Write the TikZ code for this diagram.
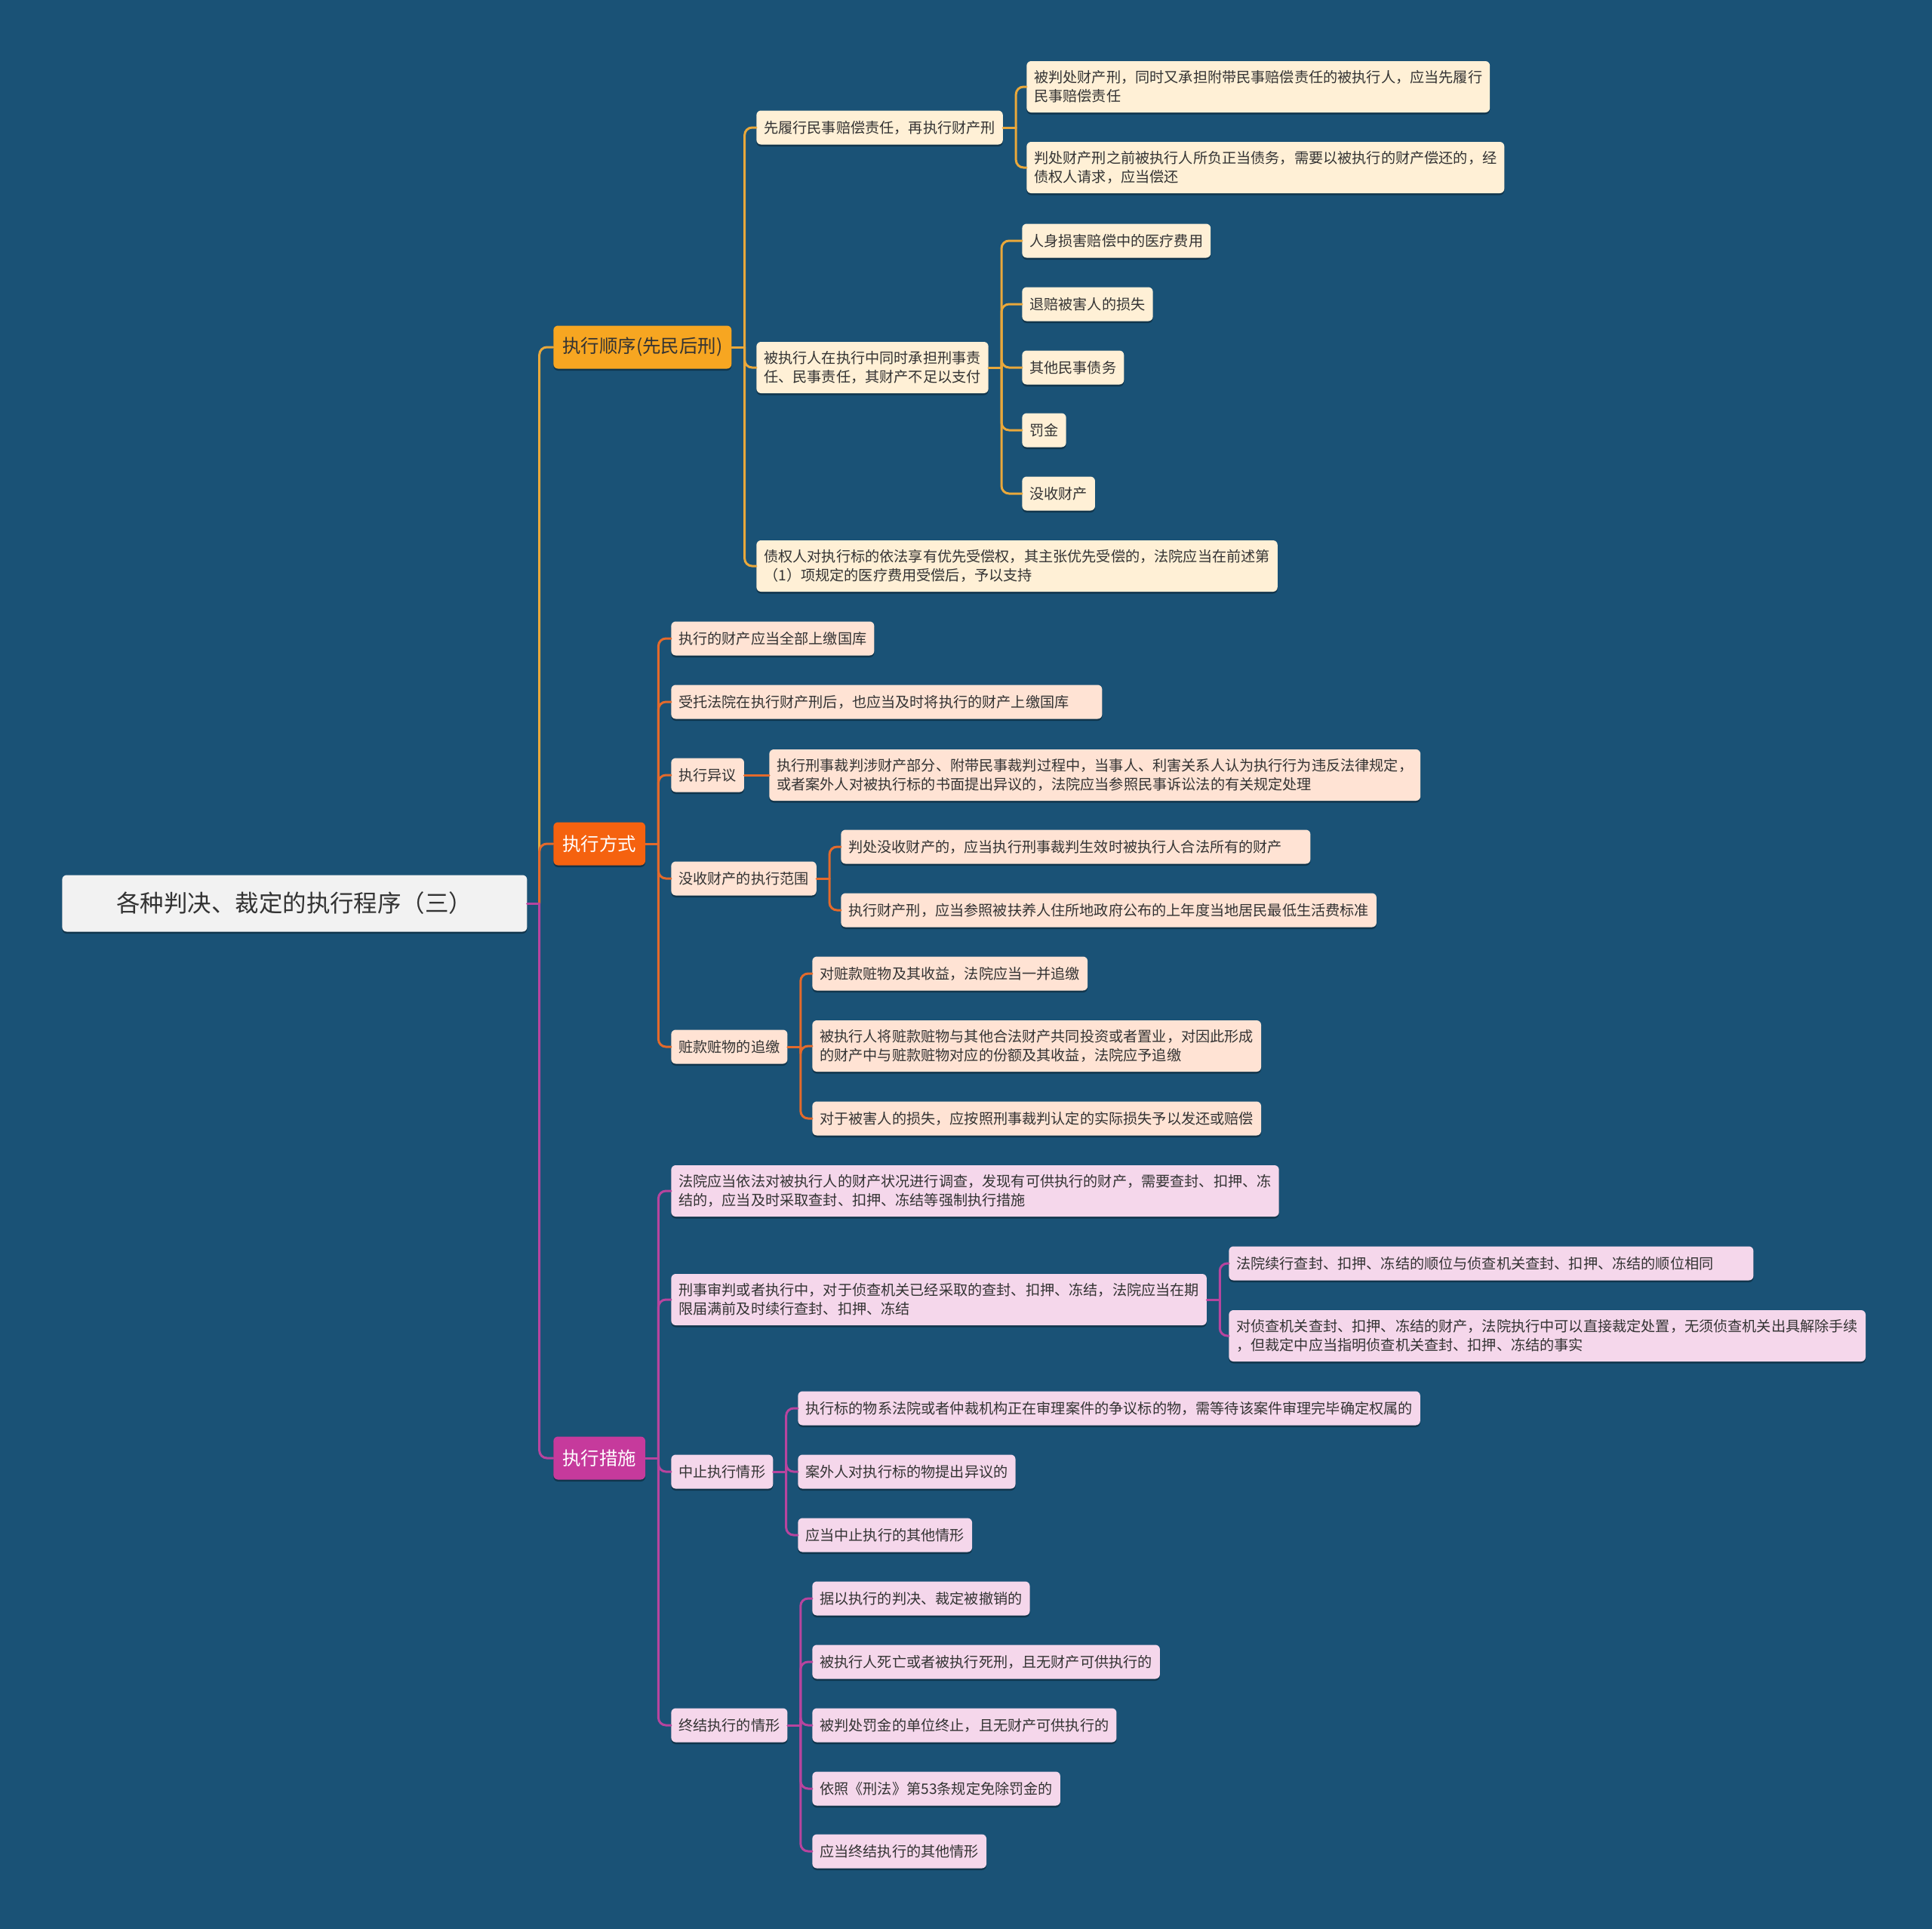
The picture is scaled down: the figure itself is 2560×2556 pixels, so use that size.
\documentclass[tikz,border=0pt]{standalone}
\usepackage{fontspec}
\newfontfamily\cjk{Noto Sans CJK SC}
\usetikzlibrary{calc,shadows}

\definecolor{bgblue}{HTML}{1A5276}
\definecolor{rootgray}{HTML}{F2F2F2}
\definecolor{inktext}{HTML}{333333}
\definecolor{goldfill}{HTML}{F7A621}
\definecolor{goldline}{HTML}{E9A83B}
\definecolor{goldleaf}{HTML}{FFF0D6}
\definecolor{orangefill}{HTML}{F5620F}
\definecolor{orangeline}{HTML}{E36A2C}
\definecolor{orangeleaf}{HTML}{FFE3D4}
\definecolor{plumfill}{HTML}{C63A9C}
\definecolor{plumline}{HTML}{B8449E}
\definecolor{plumleaf}{HTML}{F5D7EB}

\tikzset{
  box/.style={rectangle, rounded corners=1.2mm, anchor=west, text=inktext, align=left,
    drop shadow={shadow xshift=0mm, shadow yshift=-0.5mm, opacity=0.35, fill=black}},
  rootbox/.style={box, fill=rootgray, minimum width=123.2mm, minimum height=15mm, align=center,
    font=\cjk\fontsize{17.9}{21}\selectfont},
  topic/.style={box, minimum height=11.4mm, inner xsep=2.4mm, font=\cjk\fontsize{13.9}{16}\selectfont},
  leaf/.style={box, minimum height=9mm, inner xsep=2mm, font=\cjk\fontsize{10.9}{14.2}\selectfont},
  tall/.style={minimum height=13.6mm},
  wide/.style={text width=#1},
  link/.style={line width=0.6mm, rounded corners=2mm, line cap=round},
}

\begin{document}
\begin{tikzpicture}[x=0.2mm, y=-0.2mm]
    % Background
    \useasboundingbox (0,0) rectangle (2560,2556);
    \fill[bgblue] (0,0) rectangle (2560,2556);

    % Root
    \node[rootbox] (root) at (82,1197) {各种判决、裁定的执行程序（三）};

    % Main topics
    \node[topic, fill=goldfill] (seq) at (733,460) {执行顺序(先民后刑)};
    \node[topic, fill=orangefill, text=white] (way) at (733,1118) {执行方式};
    \node[topic, fill=plumfill, text=white] (act) at (733,1932) {执行措施};

    % Order of execution
    \node[leaf, fill=goldleaf] (seq1) at (1002,169) {先履行民事赔偿责任，再执行财产刑};
    \node[leaf, fill=goldleaf, tall] (seq1a) at (1360,115) {被判处财产刑，同时又承担附带民事赔偿责任的被执行人，应当先履行\\民事赔偿责任};
    \node[leaf, fill=goldleaf, tall] (seq1b) at (1360,222) {判处财产刑之前被执行人所负正当债务，需要以被执行的财产偿还的，经\\债权人请求，应当偿还};
    \node[leaf, fill=goldleaf, tall] (seq2) at (1002,487) {被执行人在执行中同时承担刑事责\\任、民事责任，其财产不足以支付};
    \node[leaf, fill=goldleaf] (seq2a) at (1354,319) {人身损害赔偿中的医疗费用};
    \node[leaf, fill=goldleaf] (seq2b) at (1354,403) {退赔被害人的损失};
    \node[leaf, fill=goldleaf] (seq2c) at (1354,487) {其他民事债务};
    \node[leaf, fill=goldleaf] (seq2d) at (1354,570) {罚金};
    \node[leaf, fill=goldleaf] (seq2e) at (1354,654) {没收财产};
    \node[leaf, fill=goldleaf, tall] (seq3) at (1002,750) {债权人对执行标的依法享有优先受偿权，其主张优先受偿的，法院应当在前述第\\（1）项规定的医疗费用受偿后，予以支持};

    % Manner of execution
    \node[leaf, fill=orangeleaf] (way1) at (889,846) {执行的财产应当全部上缴国库};
    \node[leaf, fill=orangeleaf, wide=110.2mm] (way2) at (889,930) {受托法院在执行财产刑后，也应当及时将执行的财产上缴国库};
    \node[leaf, fill=orangeleaf] (way3) at (889,1027) {执行异议};
    \node[leaf, fill=orangeleaf, tall] (way3a) at (1019,1027) {执行刑事裁判涉财产部分、附带民事裁判过程中，当事人、利害关系人认为执行行为违反法律规定，\\或者案外人对被执行标的书面提出异议的，法院应当参照民事诉讼法的有关规定处理};
    \node[leaf, fill=orangeleaf] (way4) at (889,1164) {没收财产的执行范围};
    \node[leaf, fill=orangeleaf, wide=120.4mm] (way4a) at (1114,1122) {判处没收财产的，应当执行刑事裁判生效时被执行人合法所有的财产};
    \node[leaf, fill=orangeleaf] (way4b) at (1114,1206) {执行财产刑，应当参照被扶养人住所地政府公布的上年度当地居民最低生活费标准};
    \node[leaf, fill=orangeleaf] (way5) at (889,1387) {赃款赃物的追缴};
    \node[leaf, fill=orangeleaf] (way5a) at (1076,1290) {对赃款赃物及其收益，法院应当一并追缴};
    \node[leaf, fill=orangeleaf, tall] (way5b) at (1076,1386) {被执行人将赃款赃物与其他合法财产共同投资或者置业，对因此形成\\的财产中与赃款赃物对应的份额及其收益，法院应予追缴};
    \node[leaf, fill=orangeleaf] (way5c) at (1076,1482) {对于被害人的损失，应按照刑事裁判认定的实际损失予以发还或赔偿};

    % Measures of execution
    \node[leaf, fill=plumleaf, tall] (act1) at (889,1578) {法院应当依法对被执行人的财产状况进行调查，发现有可供执行的财产，需要查封、扣押、冻\\结的，应当及时采取查封、扣押、冻结等强制执行措施};
    \node[leaf, fill=plumleaf, tall] (act2) at (889,1722) {刑事审判或者执行中，对于侦查机关已经采取的查封、扣押、冻结，法院应当在期\\限届满前及时续行查封、扣押、冻结};
    \node[leaf, fill=plumleaf, wide=135mm] (act2a) at (1628,1674) {法院续行查封、扣押、冻结的顺位与侦查机关查封、扣押、冻结的顺位相同};
    \node[leaf, fill=plumleaf, tall] (act2b) at (1628,1770) {对侦查机关查封、扣押、冻结的财产，法院执行中可以直接裁定处置，无须侦查机关出具解除手续\\，但裁定中应当指明侦查机关查封、扣押、冻结的事实};
    \node[leaf, fill=plumleaf] (act3) at (889,1950) {中止执行情形};
    \node[leaf, fill=plumleaf] (act3a) at (1057,1866) {执行标的物系法院或者仲裁机构正在审理案件的争议标的物，需等待该案件审理完毕确定权属的};
    \node[leaf, fill=plumleaf] (act3b) at (1057,1950) {案外人对执行标的物提出异议的};
    \node[leaf, fill=plumleaf] (act3c) at (1057,2034) {应当中止执行的其他情形};
    \node[leaf, fill=plumleaf] (act4) at (889,2286) {终结执行的情形};
    \node[leaf, fill=plumleaf] (act4a) at (1076,2118) {据以执行的判决、裁定被撤销的};
    \node[leaf, fill=plumleaf] (act4b) at (1076,2202) {被执行人死亡或者被执行死刑，且无财产可供执行的};
    \node[leaf, fill=plumleaf] (act4c) at (1076,2286) {被判处罚金的单位终止，且无财产可供执行的};
    \node[leaf, fill=plumleaf] (act4d) at (1076,2370) {依照《刑法》第53条规定免除罚金的};
    \node[leaf, fill=plumleaf] (act4e) at (1076,2453) {应当终结执行的其他情形};

    % Links from the root
    \draw[link, goldline] ($(root.east)+(3.2mm,0)$) |- (seq.west);
    \draw[link, orangeline] ($(root.east)+(3.2mm,0)$) |- (way.west);
    \draw[link, plumline] ($(root.east)+(3.2mm,0)$) |- (act.west);
    \draw[link, plumline] (root.east) -- ++(3.2mm,0);

    % Links of the first branch
    \draw[link, goldline] (seq.east) -- ++(3.4mm,0);
    \foreach \kid in {seq1,seq2,seq3}
        \draw[link, goldline] ($(seq.east)+(3.4mm,0)$) |- (\kid.west);
    \draw[link, goldline] (seq1.east) -- ++(3.4mm,0);
    \foreach \kid in {seq1a,seq1b}
        \draw[link, goldline] ($(seq1.east)+(3.4mm,0)$) |- (\kid.west);
    \draw[link, goldline] (seq2.east) -- ++(3.4mm,0);
    \foreach \kid in {seq2a,seq2b,seq2c,seq2d,seq2e}
        \draw[link, goldline] ($(seq2.east)+(3.4mm,0)$) |- (\kid.west);

    % Links of the second branch
    \draw[link, orangeline] (way.east) -- ++(3.4mm,0);
    \foreach \kid in {way1,way2,way3,way4,way5}
        \draw[link, orangeline] ($(way.east)+(3.4mm,0)$) |- (\kid.west);
    \draw[link, orangeline] (way3.east) -- (way3a.west);
    \draw[link, orangeline] (way4.east) -- ++(3.4mm,0);
    \foreach \kid in {way4a,way4b}
        \draw[link, orangeline] ($(way4.east)+(3.4mm,0)$) |- (\kid.west);
    \draw[link, orangeline] (way5.east) -- ++(3.4mm,0);
    \foreach \kid in {way5a,way5b,way5c}
        \draw[link, orangeline] ($(way5.east)+(3.4mm,0)$) |- (\kid.west);

    % Links of the third branch
    \draw[link, plumline] (act.east) -- ++(3.4mm,0);
    \foreach \kid in {act1,act2,act3,act4}
        \draw[link, plumline] ($(act.east)+(3.4mm,0)$) |- (\kid.west);
    \draw[link, plumline] (act2.east) -- ++(3.4mm,0);
    \foreach \kid in {act2a,act2b}
        \draw[link, plumline] ($(act2.east)+(3.4mm,0)$) |- (\kid.west);
    \draw[link, plumline] (act3.east) -- ++(3.4mm,0);
    \foreach \kid in {act3a,act3b,act3c}
        \draw[link, plumline] ($(act3.east)+(3.4mm,0)$) |- (\kid.west);
    \draw[link, plumline] (act4.east) -- ++(3.4mm,0);
    \foreach \kid in {act4a,act4b,act4c,act4d,act4e}
        \draw[link, plumline] ($(act4.east)+(3.4mm,0)$) |- (\kid.west);
\end{tikzpicture}
\end{document}
